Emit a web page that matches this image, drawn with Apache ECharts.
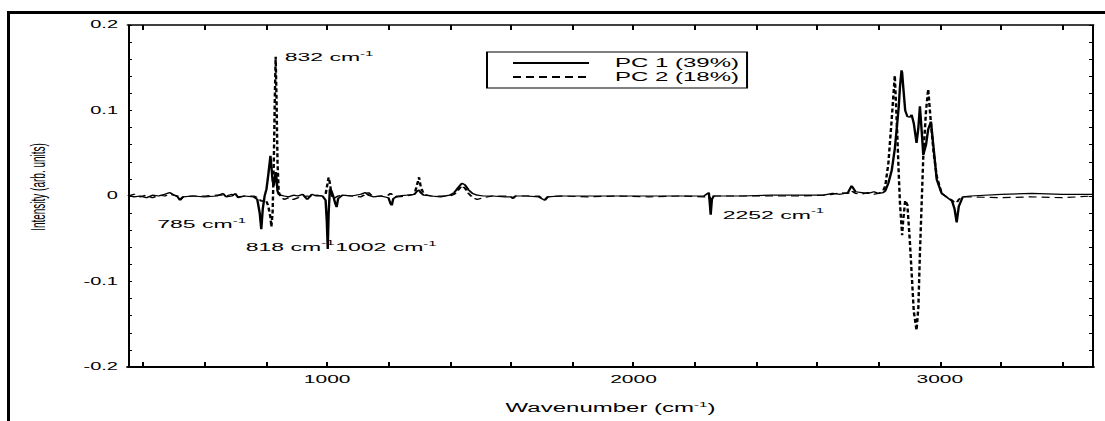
<!DOCTYPE html>
<html>
<head>
<meta charset="utf-8">
<script src="https://cdn.jsdelivr.net/npm/echarts@6.0.0/dist/echarts.min.js"></script>
<style>
  html, body { margin: 0; padding: 0; background: #fff; }
  #page { position: relative; width: 1105px; height: 421px; overflow: hidden; background: #fff; }
  /* figure frame: left and top edges only */
  #frame { position: absolute; left: 7px; top: 11px; right: -20px; bottom: -20px;
           border-left: 3px solid #000; border-top: 3px solid #000; }
  /* the figure is laid out at half width and stretched 2x horizontally */
  #chart { position: absolute; left: 0; top: 0; width: 552.5px; height: 421px;
           transform: scaleX(2); transform-origin: 0 0; }
</style>
</head>
<body>
<div id="page"><div id="frame"></div><div id="chart"></div></div>
<script>
// Raman shift axis (cm^-1) shared by both loadings
const wavenumber = [
  350, 370, 390, 410, 430, 450, 470, 487, 500, 512, 520, 530, 560, 600, 640, 660, 670, 690, 700, 710,
  730, 760, 772, 780, 785, 790, 796, 802, 808, 815, 818, 822, 826, 829, 832, 835, 838, 842, 848, 860,
  875, 890, 905, 920, 935, 950, 965, 985, 995, 999, 1002, 1005, 1009, 1014, 1020, 1026, 1031, 1036, 1050, 1080,
  1110, 1125, 1135, 1150, 1175, 1200, 1207, 1211, 1216, 1230, 1260, 1285, 1295, 1300, 1305, 1315, 1340, 1370, 1400, 1415,
  1428, 1440, 1450, 1462, 1475, 1490, 1510, 1540, 1580, 1600, 1607, 1615, 1650, 1690, 1705, 1711, 1720, 1760, 1850, 1950,
  2050, 2150, 2230, 2246, 2249, 2252, 2256, 2262, 2350, 2450, 2550, 2620, 2650, 2675, 2700, 2712, 2725, 2745, 2765, 2785,
  2800, 2815, 2822, 2832, 2843, 2853, 2861, 2866, 2870, 2875, 2877, 2880, 2887, 2894, 2902, 2908, 2915, 2924, 2930, 2935,
  2941, 2946, 2955, 2962, 2971, 2980, 2990, 3006, 3025, 3040, 3048, 3055, 3062, 3075, 3100, 3200, 3300, 3400, 3500
];

// PC 1 loading
const pc1 = [
  0.001, -0.001, 0.000, -0.002, 0.001, 0.000, 0.002, 0.004, 0.001, -0.001, -0.005, -0.001, 0.000, -0.001, 0.000, 0.003, -0.001, 0.000, 0.003, -0.002,
  0.000, -0.001, -0.004, -0.020, -0.039, -0.015, 0.000, 0.008, 0.025, 0.047, 0.035, 0.018, 0.012, 0.020, 0.028, 0.020, 0.006, 0.002, 0.001, 0.000,
  -0.001, 0.001, 0.000, 0.002, -0.004, 0.002, 0.000, 0.000, -0.005, -0.030, -0.062, -0.020, 0.008, 0.006, 0.000, -0.008, -0.013, -0.003, 0.001, 0.000,
  0.002, 0.004, 0.001, -0.001, 0.000, -0.002, -0.009, -0.011, -0.003, 0.000, 0.001, 0.002, 0.006, 0.007, 0.004, 0.001, 0.000, -0.001, 0.001, 0.004,
  0.010, 0.015, 0.013, 0.007, 0.003, 0.001, 0.000, 0.000, -0.001, -0.001, -0.003, 0.000, 0.000, -0.001, -0.004, -0.005, -0.001, 0.000, 0.000, 0.000,
  0.000, 0.000, 0.000, 0.004, -0.008, -0.022, -0.004, 0.000, 0.000, 0.001, 0.001, 0.001, 0.003, 0.002, 0.004, 0.012, 0.005, 0.004, 0.003, 0.005,
  0.003, 0.004, 0.006, 0.015, 0.030, 0.055, 0.085, 0.105, 0.128, 0.147, 0.144, 0.130, 0.100, 0.093, 0.092, 0.095, 0.085, 0.062, 0.080, 0.105,
  0.075, 0.048, 0.060, 0.078, 0.087, 0.055, 0.019, 0.003, -0.002, -0.006, -0.015, -0.031, -0.012, -0.001, 0.000, 0.002, 0.003, 0.002, 0.002
];

// PC 2 loading
const pc2 = [
  0.000, 0.002, -0.001, 0.001, -0.002, 0.001, 0.000, 0.002, 0.001, 0.000, -0.004, -0.001, 0.000, 0.000, 0.001, 0.001, 0.000, 0.002, 0.000, -0.001,
  0.000, 0.000, -0.002, -0.004, -0.006, -0.006, -0.004, -0.006, -0.012, -0.025, -0.036, -0.020, 0.040, 0.110, 0.163, 0.110, 0.040, 0.005, -0.001, -0.004,
  -0.002, -0.004, -0.002, -0.001, 0.000, -0.001, 0.001, 0.000, 0.002, 0.010, 0.016, 0.022, 0.015, 0.002, -0.003, -0.002, -0.001, 0.000, 0.001, 0.000,
  -0.001, 0.002, 0.004, -0.001, 0.000, 0.001, 0.003, 0.002, 0.000, -0.001, 0.000, 0.002, 0.015, 0.022, 0.012, 0.002, 0.000, 0.000, 0.000, 0.002,
  0.007, 0.012, 0.009, 0.003, -0.002, -0.004, -0.002, 0.000, 0.000, -0.001, -0.002, 0.000, 0.000, 0.000, -0.003, -0.004, -0.001, 0.000, -0.001, 0.000,
  -0.001, 0.000, -0.001, 0.000, -0.002, -0.004, -0.001, 0.000, 0.000, 0.000, 0.000, 0.001, 0.002, 0.004, 0.003, 0.006, 0.003, 0.002, 0.004, 0.002,
  0.003, 0.006, 0.012, 0.038, 0.090, 0.141, 0.073, 0.025, -0.009, -0.035, -0.046, -0.030, -0.005, -0.010, -0.052, -0.090, -0.135, -0.157, -0.130, -0.067,
  -0.005, 0.046, 0.100, 0.125, 0.085, 0.050, 0.023, 0.003, -0.002, -0.005, -0.008, -0.008, -0.004, -0.001, -0.001, -0.002, -0.001, -0.002, 0.000
];

const seriesNames = ['PC 1 (39%)', 'PC 2 (18%)'];
const xTickLabels = [1000, 2000, 3000];
const yTickLabels = [-0.2, -0.1, 0, 0.1, 0.2];

// annotated bands: position and the loading the band is read from
const bandWavenumbers = [785, 818, 832, 1002, 2252];
const bandLoading = ['pc1', 'pc2', 'pc2', 'pc1', 'pc1'];

// ---- presentation ----
const FONT = '"Liberation Sans", Arial, Helvetica, sans-serif';
const X_MIN = 350, X_MAX = 3500, Y_MIN = -0.2, Y_MAX = 0.2;
const bandLabelOffset = { 785: [-52, -5], 818: [-12.8, 20], 832: [4.5, 1], 1002: [3.7, -2], 2252: [6, 0] };

const xMinorTicks = [];
for (let v = 400; v <= 3400; v += 200) xMinorTicks.push(v);
const yMinorTicks = [];
for (let i = -10; i <= 10; i++) yMinorTicks.push(i / 50);

const loadings = { pc1, pc2 };
const toPairs = arr => wavenumber.map((w, i) => [w, arr[i]]);

const supRich = {
  sup: { fontSize: 7.5, fontFamily: FONT, color: '#000', verticalAlign: 'top', lineHeight: 8 }
};

function bandMarks(key) {
  const data = [];
  bandWavenumbers.forEach((w, i) => {
    if (bandLoading[i] !== key) return;
    const idx = wavenumber.indexOf(w);
    data.push({
      coord: [w, loadings[key][idx]],
      value: w,
      label: { offset: bandLabelOffset[w] }
    });
  });
  return {
    symbol: 'circle',
    symbolSize: 1,
    itemStyle: { color: 'rgba(0,0,0,0)' },
    silent: true,
    animation: false,
    label: {
      show: true,
      position: 'inside',
      align: 'left',
      verticalAlign: 'middle',
      color: '#000',
      fontFamily: FONT,
      fontSize: 11.5,
      lineHeight: 16,
      formatter: p => p.value + ' cm{sup|-1}',
      rich: supRich
    },
    data
  };
}

const axisCommon = {
  type: 'value',
  splitLine: { show: false },
  axisLine: { show: true, onZero: false, lineStyle: { color: '#000' } }
};

const chart = echarts.init(document.getElementById('chart'), null, {
  renderer: 'svg', width: 552.5, height: 421
});

chart.setOption({
  animation: false,
  backgroundColor: 'transparent',
  grid: { left: 64, right: 6, top: 25, bottom: 54 },
  legend: {
    orient: 'vertical',
    left: 243.5,
    top: 52,
    padding: [4, 4, 4, 12],
    itemWidth: 38,
    itemHeight: 12,
    itemGap: 0,
    borderColor: '#000',
    borderWidth: 1,
    selectedMode: false,
    itemStyle: { opacity: 0 },
    data: seriesNames,
    textStyle: { fontFamily: FONT, fontSize: 12, lineHeight: 14, color: '#000', padding: [0, 0, 0, 8] }
  },
  xAxis: [
    Object.assign({}, axisCommon, {
      position: 'bottom',
      min: X_MIN, max: X_MAX,
      axisLine: { show: true, onZero: false, lineStyle: { color: '#000', width: 2 } },
      axisTick: { show: true, inside: true, length: 5, lineStyle: { color: '#000', width: 1 }, customValues: xMinorTicks },
      axisLabel: {
        show: true, margin: 7, color: '#000', fontFamily: FONT, fontSize: 10.5,
        customValues: xTickLabels,
        formatter: v => String(v)
      },
      name: 'Wavenumber (cm{sup|-1})',
      nameLocation: 'middle',
      nameGap: 33,
      nameTextStyle: { fontFamily: FONT, fontSize: 12, color: '#000', lineHeight: 16, rich: supRich }
    }),
    Object.assign({}, axisCommon, {
      position: 'top',
      min: X_MIN, max: X_MAX,
      axisLine: { show: true, onZero: false, lineStyle: { color: '#000', width: 1.5 } },
      axisTick: { show: true, inside: true, length: 5, lineStyle: { color: '#000', width: 1 }, customValues: xMinorTicks },
      axisLabel: { show: false }
    })
  ],
  yAxis: [
    Object.assign({}, axisCommon, {
      position: 'left',
      min: Y_MIN, max: Y_MAX,
      axisLine: { show: true, onZero: false, lineStyle: { color: '#000', width: 1 } },
      axisTick: { show: true, inside: true, length: 2, lineStyle: { color: '#000', width: 1 }, customValues: yMinorTicks },
      axisLabel: {
        show: true, margin: 5, color: '#000', fontFamily: FONT, fontSize: 10,
        customValues: yTickLabels,
        formatter: v => (Math.abs(v) < 1e-9 ? '0' : v.toFixed(1))
      },
      name: 'Intensity (arb. units)',
      nameLocation: 'middle',
      nameRotate: 90,
      nameGap: 40,
      nameTextStyle: { fontFamily: FONT, fontSize: 10, color: '#000', padding: [0, 0, 0, 18] }
    }),
    Object.assign({}, axisCommon, {
      position: 'right',
      min: Y_MIN, max: Y_MAX,
      axisLine: { show: true, onZero: false, lineStyle: { color: '#000', width: 1 } },
      axisTick: { show: true, inside: true, length: 2, lineStyle: { color: '#000', width: 1 }, customValues: yMinorTicks },
      axisLabel: { show: false }
    })
  ],
  series: [
    {
      name: seriesNames[0],
      type: 'line',
      xAxisIndex: 0, yAxisIndex: 0,
      data: toPairs(pc1),
      symbol: 'none',
      showSymbol: false,
      z: 3,
      lineStyle: { color: '#000', width: 1.2, type: 'solid' },
      itemStyle: { color: '#000' },
      markPoint: bandMarks('pc1')
    },
    {
      name: seriesNames[1],
      type: 'line',
      xAxisIndex: 0, yAxisIndex: 0,
      data: toPairs(pc2),
      symbol: 'none',
      showSymbol: false,
      z: 2,
      lineStyle: { color: '#000', width: 1.2, type: [4, 2.5] },
      itemStyle: { color: '#000' },
      markPoint: bandMarks('pc2')
    }
  ]
});
</script>
</body>
</html>
